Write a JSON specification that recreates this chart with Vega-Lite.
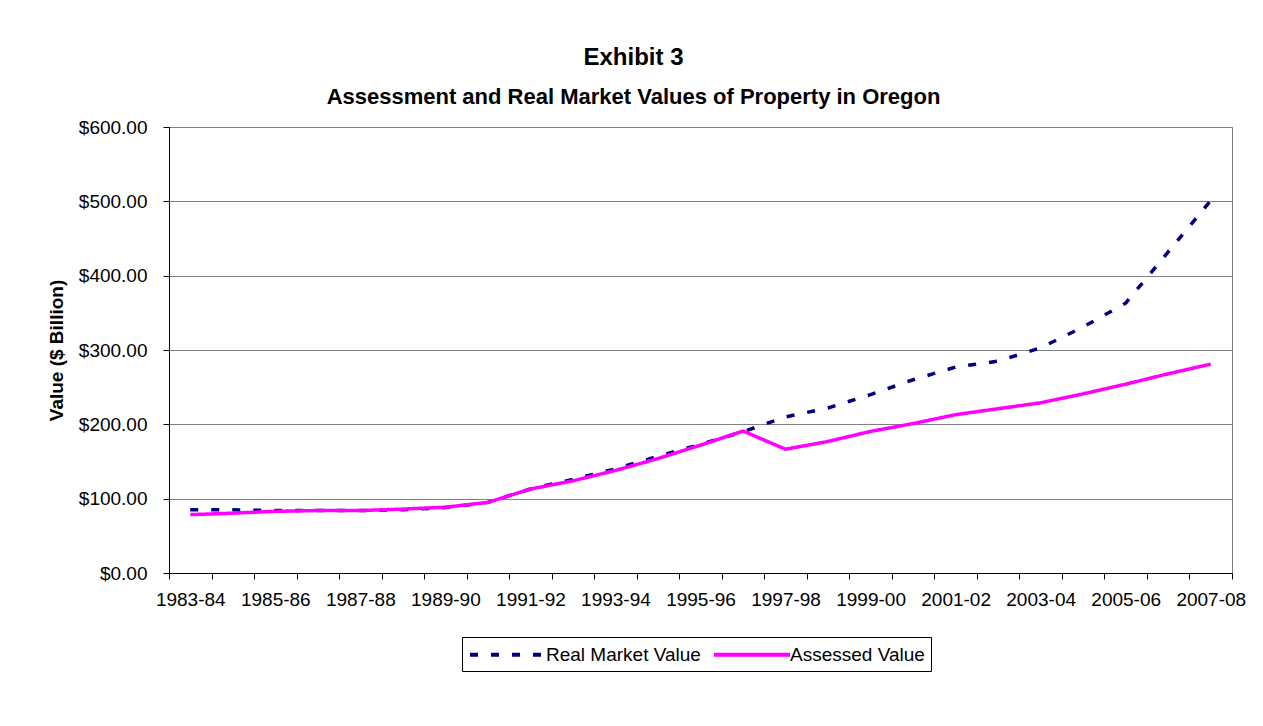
{
  "$schema": "https://vega.github.io/schema/vega-lite/v6.json",
  "width": 1063,
  "height": 446,
  "autosize": "none",
  "padding": {"left": 169, "top": 127, "right": 31, "bottom": 153},
  "background": "white",
  "title": {
    "text": "Exhibit 3",
    "subtitle": "Assessment and Real Market Values of Property in Oregon",
    "anchor": "middle",
    "frame": "group",
    "dx": -67,
    "font": "Liberation Sans",
    "fontSize": 24,
    "fontWeight": "bold",
    "color": "black",
    "subtitleFont": "Liberation Sans",
    "subtitleFontSize": 22,
    "subtitleFontWeight": "bold",
    "subtitleColor": "black",
    "offset": 10,
    "subtitlePadding": 17
  },
  "data": {
    "values": [
      {"year": "1983-84", "series": "Real Market Value", "value": 85},
      {"year": "1984-85", "series": "Real Market Value", "value": 85},
      {"year": "1985-86", "series": "Real Market Value", "value": 84},
      {"year": "1986-87", "series": "Real Market Value", "value": 84},
      {"year": "1987-88", "series": "Real Market Value", "value": 84},
      {"year": "1988-89", "series": "Real Market Value", "value": 85},
      {"year": "1989-90", "series": "Real Market Value", "value": 88},
      {"year": "1990-91", "series": "Real Market Value", "value": 95},
      {"year": "1991-92", "series": "Real Market Value", "value": 113},
      {"year": "1992-93", "series": "Real Market Value", "value": 126},
      {"year": "1993-94", "series": "Real Market Value", "value": 140},
      {"year": "1994-95", "series": "Real Market Value", "value": 157},
      {"year": "1995-96", "series": "Real Market Value", "value": 173},
      {"year": "1996-97", "series": "Real Market Value", "value": 190},
      {"year": "1997-98", "series": "Real Market Value", "value": 210},
      {"year": "1998-99", "series": "Real Market Value", "value": 222},
      {"year": "1999-00", "series": "Real Market Value", "value": 240},
      {"year": "2000-01", "series": "Real Market Value", "value": 260},
      {"year": "2001-02", "series": "Real Market Value", "value": 277},
      {"year": "2002-03", "series": "Real Market Value", "value": 285},
      {"year": "2003-04", "series": "Real Market Value", "value": 303},
      {"year": "2004-05", "series": "Real Market Value", "value": 331},
      {"year": "2005-06", "series": "Real Market Value", "value": 363},
      {"year": "2006-07", "series": "Real Market Value", "value": 432},
      {"year": "2007-08", "series": "Real Market Value", "value": 501},
      {"year": "1983-84", "series": "Assessed Value", "value": 78.5},
      {"year": "1984-85", "series": "Assessed Value", "value": 80.5},
      {"year": "1985-86", "series": "Assessed Value", "value": 83},
      {"year": "1986-87", "series": "Assessed Value", "value": 84},
      {"year": "1987-88", "series": "Assessed Value", "value": 84},
      {"year": "1988-89", "series": "Assessed Value", "value": 86},
      {"year": "1989-90", "series": "Assessed Value", "value": 88.5},
      {"year": "1990-91", "series": "Assessed Value", "value": 95},
      {"year": "1991-92", "series": "Assessed Value", "value": 113},
      {"year": "1992-93", "series": "Assessed Value", "value": 124},
      {"year": "1993-94", "series": "Assessed Value", "value": 138},
      {"year": "1994-95", "series": "Assessed Value", "value": 154},
      {"year": "1995-96", "series": "Assessed Value", "value": 172},
      {"year": "1996-97", "series": "Assessed Value", "value": 191},
      {"year": "1997-98", "series": "Assessed Value", "value": 166.5},
      {"year": "1998-99", "series": "Assessed Value", "value": 177},
      {"year": "1999-00", "series": "Assessed Value", "value": 190.5},
      {"year": "2000-01", "series": "Assessed Value", "value": 201},
      {"year": "2001-02", "series": "Assessed Value", "value": 213},
      {"year": "2002-03", "series": "Assessed Value", "value": 221},
      {"year": "2003-04", "series": "Assessed Value", "value": 229},
      {"year": "2004-05", "series": "Assessed Value", "value": 241},
      {"year": "2005-06", "series": "Assessed Value", "value": 254},
      {"year": "2006-07", "series": "Assessed Value", "value": 268},
      {"year": "2007-08", "series": "Assessed Value", "value": 281}
    ]
  },
  "mark": {"type": "line", "strokeWidth": 3.5},
  "encoding": {
    "x": {
      "field": "year",
      "type": "ordinal",
      "sort": null,
      "bandPosition": 0.5,
      "scale": {"type": "band", "paddingInner": 0, "paddingOuter": 0},
      "axis": {
        "title": null,
        "labelAngle": 0,
        "tickBand": "extent",
        "labelExpr": "toNumber(substring(datum.value, 0, 4)) % 2 == 1 ? datum.value : ''",
        "labelOverlap": false,
        "labelPadding": 11,
        "tickSize": 6,
        "grid": false
      }
    },
    "y": {
      "field": "value",
      "type": "quantitative",
      "scale": {"domain": [0, 600]},
      "axis": {
        "title": "Value ($ Billion)",
        "values": [0, 100, 200, 300, 400, 500, 600],
        "format": "$,.2f",
        "grid": true,
        "labelPadding": 16,
        "tickSize": 6,
        "titlePadding": 12
      }
    },
    "color": {
      "field": "series",
      "type": "nominal",
      "sort": null,
      "scale": {"domain": ["Real Market Value", "Assessed Value"], "range": ["#000080", "#FF00FF"]},
      "legend": {"title": null}
    },
    "strokeDash": {
      "field": "series",
      "type": "nominal",
      "sort": null,
      "scale": {"domain": ["Real Market Value", "Assessed Value"], "range": [[8, 13], [1, 0]]},
      "legend": {"title": null}
    }
  },
  "config": {
    "font": "Liberation Sans",
    "view": {"stroke": "#808080", "strokeWidth": 1},
    "axis": {
      "labelFont": "Liberation Sans",
      "labelFontSize": 19,
      "labelColor": "black",
      "titleFont": "Liberation Sans",
      "titleFontSize": 19,
      "titleFontWeight": "bold",
      "titleColor": "black",
      "domainColor": "black",
      "domainWidth": 1,
      "tickColor": "black",
      "tickWidth": 1,
      "gridColor": "#808080",
      "gridWidth": 1,
      "gridOpacity": 1
    },
    "legend": {
      "orient": "none",
      "legendX": 293,
      "legendY": 510,
      "direction": "horizontal",
      "symbolType": "M-1,0H7",
      "symbolSize": 361,
      "symbolStrokeWidth": 4,
      "labelFont": "Liberation Sans",
      "labelFontSize": 19,
      "labelColor": "black",
      "labelLimit": 400,
      "labelOffset": 55,
      "columnPadding": 5,
      "padding": 6,
      "strokeColor": "black",
      "fillColor": "white"
    }
  }
}
